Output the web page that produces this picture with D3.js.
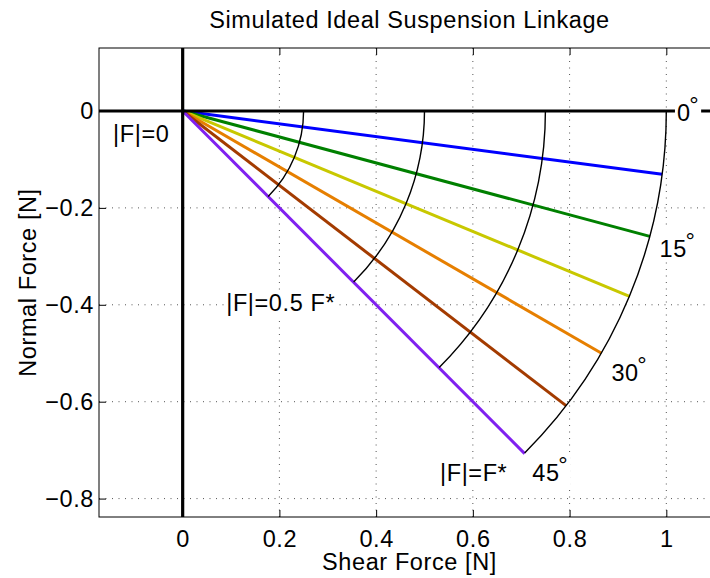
<!DOCTYPE html>
<html>
<head>
<meta charset="utf-8">
<script src="https://cdn.jsdelivr.net/npm/d3@7"></script>
<style>
  body { margin: 0; background: #fff; }
  svg { display: block; font-family: "Liberation Sans", Arial, Helvetica, sans-serif; }
</style>
</head>
<body>
<script>
// axis limits (data units) and ticks
var xLimits = [-0.173, 1.111];
var yLimits = [-0.838, 0.13];
var xTicks = [0, 0.2, 0.4, 0.6, 0.8, 1];
var xTickLabels = ['0', '0.2', '0.4', '0.6', '0.8', '1'];
var yTicks = [-0.8, -0.6, -0.4, -0.2, 0];
var yTickLabels = ['\u22120.8', '\u22120.6', '\u22120.4', '\u22120.2', '0'];

// force rays: angle below the shear axis (deg) and magnitude
var rayAngles = [7.5, 15, 22.5, 30, 37.5, 45];
var rayLengths = [1, 1, 1, 1, 1, 1];
var rayColors = ['#0000ff', '#008000', '#c8c800', '#e67f00', '#a33b00', '#8020f0'];

// constant |F| arcs
var arcRadii = [0.25, 0.5, 0.75, 1];
var arcSpan = [0, 45];

// angle labels (text anchor positions, data units)
var angleLabels = ['0', '15', '30', '45'];
var angleLabelX = [1.022, 0.986, 0.8865, 0.723];
var angleLabelY = [-0.0035, -0.283, -0.539, -0.747];

// magnitude labels
var magLabels = ['|F|=0', '|F|=0.5 F*', '|F|=F*'];
var magLabelX = [-0.144, 0.09, 0.532];
var magLabelY = [-0.047, -0.396, -0.747];

var titleText = 'Simulated Ideal Suspension Linkage';
var xLabelText = 'Shear Force [N]';
var yLabelText = 'Normal Force [N]';

var width = 710, height = 578;
var fontSize = 23.5;
var letterSp = '0.6px';
var box = {left: 99, right: 720, top: 48, bottom: 517};

var x = d3.scaleLinear().domain(xLimits).range([box.left, box.right]);
var y = d3.scaleLinear().domain(yLimits).range([box.bottom, box.top]);
var rad = d => d * Math.PI / 180;

var svg = d3.select('body').append('svg')
    .attr('width', width)
    .attr('height', height)
    .style('font-size', fontSize + 'px')
    .style('letter-spacing', letterSp);

var plot = svg.append('g');

// grid (dotted)
plot.selectAll('.gx').data(xTicks).join('line')
    .attr('x1', d => x(d)).attr('x2', d => x(d))
    .attr('y1', box.top).attr('y2', box.bottom)
    .attr('stroke', '#555').attr('stroke-width', 1)
    .attr('stroke-dasharray', '1,5.5');
plot.selectAll('.gy').data(yTicks).join('line')
    .attr('y1', d => y(d)).attr('y2', d => y(d))
    .attr('x1', box.left).attr('x2', box.right)
    .attr('stroke', '#555').attr('stroke-width', 1)
    .attr('stroke-dasharray', '1,5.5');

// rays from the origin
plot.selectAll('.ray').data(rayAngles).join('line')
    .attr('x1', x(0)).attr('y1', y(0))
    .attr('x2', (d, i) => x(rayLengths[i] * Math.cos(rad(d))))
    .attr('y2', (d, i) => y(-rayLengths[i] * Math.sin(rad(d))))
    .attr('stroke', (d, i) => rayColors[i])
    .attr('stroke-width', 3);

// arcs of constant magnitude (pixel radius from the x scale, axes are equal)
var arcGen = d3.arc()
    .innerRadius(d => x(d) - x(0))
    .outerRadius(d => x(d) - x(0))
    .startAngle(Math.PI / 2 + rad(arcSpan[0]))
    .endAngle(Math.PI / 2 + rad(arcSpan[1]));
plot.selectAll('.arc').data(arcRadii).join('path')
    .attr('transform', `translate(${x(0)},${y(0)})`)
    .attr('d', arcGen)
    .attr('fill', 'none')
    .attr('stroke', 'black')
    .attr('stroke-width', 1.4);

// thick zero lines
plot.append('line')
    .attr('x1', x(0)).attr('x2', x(0))
    .attr('y1', box.top).attr('y2', box.bottom)
    .attr('stroke', 'black').attr('stroke-width', 3.2);
plot.append('line')
    .attr('x1', box.left).attr('x2', box.right)
    .attr('y1', y(0)).attr('y2', y(0))
    .attr('stroke', 'black').attr('stroke-width', 3.2);

// labels with white background
function addLabel(px, py, txt, degree) {
    var g = plot.append('g');
    var bg = g.append('rect').attr('fill', 'white');
    var t = g.append('text')
        .attr('x', px).attr('y', py)
        .attr('dy', '0.36em')
        .attr('fill', 'black');
    t.append('tspan').text(txt);
    if (degree) {
        t.append('tspan').text('\u00b0')
            .attr('dx', -1.5).attr('dy', -8);
    }
    var bb = t.node().getBBox();
    bg.attr('x', bb.x - 2).attr('y', bb.y)
      .attr('width', bb.width + 4).attr('height', bb.height);
}

angleLabels.forEach(function(s, i) {
    addLabel(x(angleLabelX[i]), y(angleLabelY[i]), s, true);
});
magLabels.forEach(function(s, i) {
    addLabel(x(magLabelX[i]), y(magLabelY[i]), s, false);
});

// axes box
svg.append('rect')
    .attr('x', box.left).attr('y', box.top)
    .attr('width', box.right - box.left).attr('height', box.bottom - box.top)
    .attr('fill', 'none').attr('stroke', 'black').attr('stroke-width', 1);

var xAxis = svg.append('g')
    .attr('transform', `translate(0,${box.bottom})`)
    .call(d3.axisBottom(x).tickValues(xTicks)
        .tickFormat((d, i) => xTickLabels[i])
        .tickSize(-7).tickPadding(13));
var xAxisTop = svg.append('g')
    .attr('transform', `translate(0,${box.top})`)
    .call(d3.axisTop(x).tickValues(xTicks).tickFormat('').tickSize(-7));
var yAxis = svg.append('g')
    .attr('transform', `translate(${box.left},0)`)
    .call(d3.axisLeft(y).tickValues(yTicks)
        .tickFormat((d, i) => yTickLabels[i])
        .tickSize(-7).tickPadding(5));

[xAxis, xAxisTop, yAxis].forEach(function(a) {
    a.select('.domain').remove();
    a.selectAll('line').attr('stroke', 'black');
    a.selectAll('text')
        .attr('fill', 'black')
        .style('font-size', fontSize + 'px')
        .style('font-family', '"Liberation Sans", Arial, sans-serif');
});

// titles
var midX = (box.left + box.right) / 2;
svg.append('text')
    .attr('x', midX).attr('y', 20)
    .attr('dy', '0.36em')
    .attr('text-anchor', 'middle')
    .text(titleText);
svg.append('text')
    .attr('x', midX).attr('y', 562)
    .attr('dy', '0.36em')
    .attr('text-anchor', 'middle')
    .text(xLabelText);
svg.append('text')
    .attr('transform', `translate(28,${(box.top + box.bottom) / 2}) rotate(-90)`)
    .attr('dy', '0.36em')
    .attr('text-anchor', 'middle')
    .text(yLabelText);
</script>
</body>
</html>
